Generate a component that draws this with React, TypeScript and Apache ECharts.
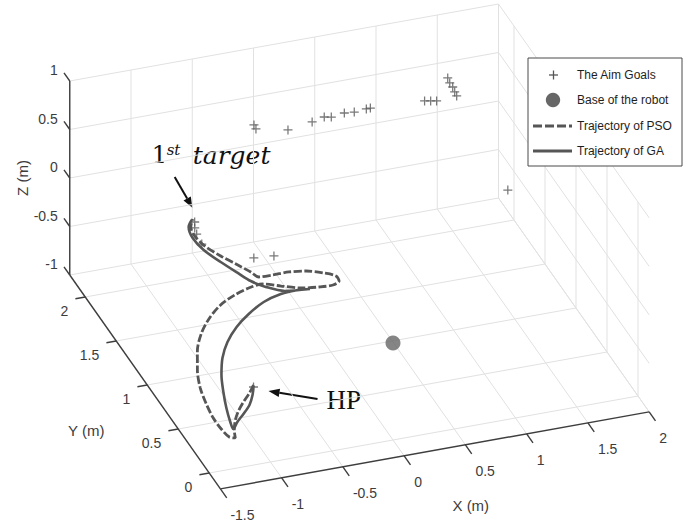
import { useEffect, useRef } from "react";
import * as echarts from "echarts";

const WIDTH = 699;
const HEIGHT = 527;

// Axis limits (metres)
const xRange = [-1.5, 2];
const yRange = [-0.18, 2.25];
const zRange = [-1, 1];

const xTicks = [-1.5, -1, -0.5, 0, 0.5, 1, 1.5, 2];
const yTicks = [0, 0.5, 1, 1.5, 2];
const zTicks = [-1, -0.5, 0, 0.5, 1];
const xTickLabels = ["-1.5", "-1", "-0.5", "0", "0.5", "1", "1.5", "2"];
const yTickLabels = ["0", "0.5", "1", "1.5", "2"];
const zTickLabels = ["-1", "-0.5", "0", "0.5", "1"];

// Goal positions [x, y, z]
const aimGoals: number[][] = [
  [-0.142, 1.962, 0.5],
  [-0.148, 1.918, 0.5],
  [0.079, 1.85, 0.5],
  [0.295, 1.887, 0.5],
  [0.408, 1.915, 0.5],
  [0.459, 1.902, 0.5],
  [0.574, 1.919, 0.5],
  [0.651, 1.911, 0.5],
  [0.754, 1.92, 0.5],
  [0.788, 1.922, 0.5],
  [1.217, 1.895, 0.5],
  [1.261, 1.884, 0.5],
  [1.304, 1.873, 0.5],
  [1.502, 2.085, 0.5],
  [1.491, 2.031, 0.5],
  [1.492, 1.985, 0.5],
  [1.481, 1.931, 0.5],
  [1.475, 1.887, 0.5],
  [1.613, 1.335, 0],
  [-0.302, 1.648, -0.55],
  [-0.146, 1.632, -0.55],
  [-0.547, 2.118, -0.55],
  [-0.577, 2.058, -0.55],
  [-0.594, 1.993, -0.55],
  [-0.608, 1.883, -0.55],
  [-0.963, 0.347, -0.55],
];

const robotBase: number[][] = [[0, 0, 0]];

// Path from the home position (HP) to the first target, PSO planner
const psoTrajectory: number[][] = [
  [-0.953, 0.367, -0.55],
  [-1.023, 0.294, -0.55],
  [-1.113, 0.214, -0.55],
  [-1.195, 0.132, -0.55],
  [-1.263, 0.047, -0.55],
  [-1.322, -0.052, -0.55],
  [-1.355, -0.134, -0.55],
  [-1.394, -0.114, -0.55],
  [-1.411, -0.018, -0.55],
  [-1.413, 0.107, -0.55],
  [-1.392, 0.261, -0.55],
  [-1.354, 0.433, -0.55],
  [-1.283, 0.62, -0.55],
  [-1.186, 0.812, -0.55],
  [-1.064, 0.986, -0.55],
  [-0.929, 1.123, -0.55],
  [-0.783, 1.234, -0.55],
  [-0.63, 1.309, -0.55],
  [-0.492, 1.354, -0.55],
  [-0.37, 1.369, -0.55],
  [-0.249, 1.316, -0.55],
  [-0.114, 1.26, -0.55],
  [0.022, 1.237, -0.55],
  [0.134, 1.232, -0.55],
  [0.198, 1.261, -0.55],
  [0.202, 1.317, -0.55],
  [0.13, 1.369, -0.55],
  [0.01, 1.422, -0.55],
  [-0.119, 1.443, -0.55],
  [-0.251, 1.442, -0.55],
  [-0.363, 1.447, -0.55],
  [-0.396, 1.512, -0.55],
  [-0.454, 1.606, -0.55],
  [-0.532, 1.728, -0.55],
  [-0.597, 1.858, -0.55],
  [-0.618, 1.977, -0.55],
  [-0.601, 2.075, -0.55],
  [-0.546, 2.152, -0.55],
];

// Path from the home position (HP) to the first target, GA planner
const gaTrajectory: number[][] = [
  [-0.958, 0.357, -0.55],
  [-1.011, 0.268, -0.55],
  [-1.084, 0.173, -0.55],
  [-1.174, 0.093, -0.55],
  [-1.259, 0.023, -0.55],
  [-1.324, -0.04, -0.55],
  [-1.31, 0.036, -0.55],
  [-1.267, 0.184, -0.55],
  [-1.207, 0.351, -0.55],
  [-1.134, 0.526, -0.55],
  [-1.04, 0.696, -0.55],
  [-0.922, 0.848, -0.55],
  [-0.779, 0.983, -0.55],
  [-0.625, 1.092, -0.55],
  [-0.455, 1.186, -0.55],
  [-0.29, 1.236, -0.55],
  [-0.146, 1.245, -0.55],
  [-0.054, 1.233, -0.55],
  [-0.246, 1.259, -0.55],
  [-0.363, 1.334, -0.55],
  [-0.442, 1.421, -0.55],
  [-0.495, 1.526, -0.55],
  [-0.563, 1.667, -0.55],
  [-0.625, 1.819, -0.55],
  [-0.643, 1.96, -0.55],
  [-0.616, 2.079, -0.55],
  [-0.558, 2.144, -0.55],
];

const firstTarget = [-0.547, 2.118, -0.55];
const homePosition = [-0.963, 0.347, -0.55];

// Orthographic view: screen offset of the origin and of one metre along each axis
const VIEW_ORIGIN = [393, 343];
const VIEW_X = [122.5, -22];
const VIEW_Y = [-62, -88];
const VIEW_Z = [0, -97];

function project(p: number[]): number[] {
  const [x, y, z] = p;
  return [
    VIEW_ORIGIN[0] + x * VIEW_X[0] + y * VIEW_Y[0] + z * VIEW_Z[0],
    VIEW_ORIGIN[1] + x * VIEW_X[1] + y * VIEW_Y[1] + z * VIEW_Z[1],
  ];
}

function unit(v: number[]): number[] {
  const l = Math.hypot(v[0], v[1]);
  return [v[0] / l, v[1] / l];
}

const LABEL_FONT = "'Liberation Sans', Arial, Helvetica, sans-serif";
const INK = "#565656";
const PLUS_PATH =
  "path://M4.3,0H5.7V4.3H10V5.7H5.7V10H4.3V5.7H0V4.3H4.3Z";

function buildFrame(): number[][] {
  const [xMin, xMax] = xRange;
  const [yMin, yMax] = yRange;
  const [zMin, zMax] = zRange;
  const GRID = 0;
  const AXIS = 1;
  const segs: [number[], number[], number][] = [];
  xTicks.forEach((x) => {
    segs.push([[x, yMin, zMin], [x, yMax, zMin], GRID]);
    segs.push([[x, yMax, zMin], [x, yMax, zMax], GRID]);
  });
  yTicks.forEach((y) => {
    segs.push([[xMin, y, zMin], [xMax, y, zMin], GRID]);
    segs.push([[xMax, y, zMin], [xMax, y, zMax], GRID]);
  });
  zTicks.forEach((z) => {
    segs.push([[xMin, yMax, z], [xMax, yMax, z], GRID]);
    segs.push([[xMax, yMin, z], [xMax, yMax, z], GRID]);
  });
  segs.push([[xMin, yMin, zMin], [xMax, yMin, zMin], AXIS]);
  segs.push([[xMin, yMin, zMin], [xMin, yMax, zMin], AXIS]);
  segs.push([[xMin, yMax, zMin], [xMin, yMax, zMax], AXIS]);

  const out = segs.map(([a, b, k]) => [...project(a), ...project(b), k]);

  const tick = (p: number[], dir: number[], len: number) => {
    const s = project(p);
    out.push([s[0], s[1], s[0] + dir[0] * len, s[1] + dir[1] * len, AXIS]);
  };
  const dirX = unit([-VIEW_Y[0], -VIEW_Y[1]]);
  const dirY = unit([-VIEW_X[0], -VIEW_X[1]]);
  const dirZ = unit(VIEW_Y);
  xTicks.forEach((x) => tick([x, yMin, zMin], dirX, 11));
  yTicks.forEach((y) => tick([xMin, y, zMin], dirY, 10));
  zTicks.forEach((z) => tick([xMin, yMax, z], dirZ, 10));
  return out;
}

function tickLabelSeries(
  points: number[][],
  labels: string[],
  dx: number,
  dy: number,
  align: string
) {
  return {
    type: "custom",
    coordinateSystem: "cartesian2d",
    silent: true,
    z: 3,
    data: points.map(project),
    renderItem: (params: any, api: any) => {
      const p = api.coord([api.value(0), api.value(1)]);
      return {
        type: "text",
        x: p[0] + dx,
        y: p[1] + dy,
        style: {
          text: labels[params.dataIndex],
          fill: "#3c3c3c",
          fontSize: 14,
          fontFamily: LABEL_FONT,
          align,
          verticalAlign: "middle",
        },
      };
    },
  };
}

function arrow(from: number[], to: number[]) {
  const d = unit([to[0] - from[0], to[1] - from[1]]);
  const n = [-d[1], d[0]];
  const len = 11;
  const hw = 4.2;
  const base = [to[0] - d[0] * len, to[1] - d[1] * len];
  return [
    {
      type: "line",
      shape: { x1: from[0], y1: from[1], x2: base[0], y2: base[1] },
      style: { stroke: "#111", lineWidth: 2 },
      silent: true,
    },
    {
      type: "polygon",
      shape: {
        points: [
          to,
          [base[0] + n[0] * hw, base[1] + n[1] * hw],
          [base[0] - n[0] * hw, base[1] - n[1] * hw],
        ],
      },
      style: { fill: "#111" },
      silent: true,
    },
  ];
}

function buildOption() {
  const [xMin] = xRange;
  const [yMin, yMax] = yRange;
  const [zMin] = zRange;

  const xName = project([0.25, yMin, zMin]);
  const yName = project([xMin, 1, zMin]);
  const zName = project([xMin, yMax, 0]);
  const tgt = project(firstTarget);
  const hp = project(homePosition);

  const legendX = 528;
  const legendY = 58;
  const rowY = [75, 100, 126, 151];
  const textX = 577;
  const LZ = 20;

  const legendText = (text: string, y: number) => ({
    type: "text",
    z: LZ,
    x: textX,
    y,
    style: {
      text,
      fill: "#1e1e1e",
      fontSize: 12,
      fontFamily: LABEL_FONT,
      align: "left",
      verticalAlign: "middle",
    },
    silent: true,
  });

  const graphic: any[] = [
    {
      type: "text",
      x: xName[0] + 36,
      y: xName[1] + 55,
      style: { text: "X (m)", fill: "#3c3c3c", fontSize: 15, fontFamily: LABEL_FONT, align: "center", verticalAlign: "middle" },
      silent: true,
    },
    {
      type: "text",
      x: yName[0] - 61,
      y: yName[1] + 45,
      style: { text: "Y (m)", fill: "#3c3c3c", fontSize: 15, fontFamily: LABEL_FONT, align: "center", verticalAlign: "middle" },
      silent: true,
    },
    {
      type: "text",
      x: zName[0] - 47,
      y: zName[1],
      rotation: Math.PI / 2,
      style: { text: "Z (m)", fill: "#3c3c3c", fontSize: 15, fontFamily: LABEL_FONT, align: "center", verticalAlign: "middle" },
      silent: true,
    },
    // first target callout
    {
      type: "text",
      x: tgt[0] - 43,
      y: tgt[1] - 67,
      style: { text: "1", fill: "#111", fontSize: 24, fontFamily: "'DejaVu Serif', serif", align: "left", verticalAlign: "middle" },
      silent: true,
    },
    {
      type: "text",
      x: tgt[0] - 28,
      y: tgt[1] - 72,
      style: { text: "st", fill: "#111", fontSize: 15, fontStyle: "italic", fontFamily: "'DejaVu Serif', serif", align: "left", verticalAlign: "middle" },
      silent: true,
    },
    {
      type: "text",
      x: tgt[0] - 2,
      y: tgt[1] - 67,
      style: { text: "target", fill: "#111", fontSize: 25, fontStyle: "italic", fontFamily: "'DejaVu Serif', serif", align: "left", verticalAlign: "middle" },
      silent: true,
    },
    ...arrow([tgt[0] - 20, tgt[1] - 45], [tgt[0] - 2, tgt[1] - 14]),
    // home position callout
    {
      type: "text",
      x: hp[0] + 73,
      y: hp[1] + 13,
      style: { text: "HP", fill: "#111", fontSize: 27, fontFamily: "'Liberation Serif', 'Times New Roman', serif", align: "left", verticalAlign: "middle" },
      silent: true,
    },
    ...arrow([hp[0] + 64, hp[1] + 12], [hp[0] + 15, hp[1] + 4]),
    // legend box and entries
    {
      type: "rect",
      z: LZ - 1,
      shape: { x: legendX, y: legendY, width: 154, height: 108 },
      style: { fill: "#fff", stroke: "#4a4a4a", lineWidth: 1 },
      silent: true,
    },
    {
      type: "line",
      z: LZ,
      shape: { x1: 549, y1: rowY[0], x2: 558, y2: rowY[0] },
      style: { stroke: INK, lineWidth: 1.3 },
      silent: true,
    },
    {
      type: "line",
      z: LZ,
      shape: { x1: 553.5, y1: rowY[0] - 4.5, x2: 553.5, y2: rowY[0] + 4.5 },
      style: { stroke: INK, lineWidth: 1.3 },
      silent: true,
    },
    {
      type: "circle",
      z: LZ,
      shape: { cx: 553, cy: rowY[1], r: 7.2 },
      style: { fill: "#676767" },
      silent: true,
    },
    {
      type: "line",
      z: LZ,
      shape: { x1: 533, y1: rowY[2], x2: 572, y2: rowY[2] },
      style: { stroke: INK, lineWidth: 3, lineDash: [9, 3] },
      silent: true,
    },
    {
      type: "line",
      z: LZ,
      shape: { x1: 533, y1: rowY[3], x2: 572, y2: rowY[3] },
      style: { stroke: INK, lineWidth: 3 },
      silent: true,
    },
    legendText("The Aim Goals", rowY[0]),
    legendText("Base of the robot", rowY[1]),
    legendText("Trajectory of PSO", rowY[2]),
    legendText("Trajectory of GA", rowY[3]),
  ];

  return {
    animation: false,
    backgroundColor: "#ffffff",
    grid: { left: 0, right: 0, top: 0, bottom: 0 },
    xAxis: { type: "value", min: 0, max: WIDTH, show: false },
    yAxis: { type: "value", min: 0, max: HEIGHT, inverse: true, show: false },
    graphic,
    series: [
      {
        type: "custom",
        coordinateSystem: "cartesian2d",
        silent: true,
        z: 1,
        data: buildFrame(),
        renderItem: (_params: any, api: any) => {
          const p1 = api.coord([api.value(0), api.value(1)]);
          const p2 = api.coord([api.value(2), api.value(3)]);
          const isAxis = api.value(4) === 1;
          return {
            type: "line",
            z2: isAxis ? 2 : 1,
            shape: { x1: p1[0], y1: p1[1], x2: p2[0], y2: p2[1] },
            style: {
              stroke: isAxis ? "#3e3e3e" : "#e1e1e1",
              lineWidth: isAxis ? 1.4 : 1,
            },
          };
        },
      },
      tickLabelSeries(
        xTicks.map((x) => [x, yRange[0], zRange[0]]),
        xTickLabels,
        10,
        26,
        "left"
      ),
      tickLabelSeries(
        yTicks.map((y) => [xRange[0], y, zRange[0]]),
        yTickLabels,
        -17,
        14,
        "right"
      ),
      tickLabelSeries(
        zTicks.map((z) => [xRange[0], yRange[1], z]),
        zTickLabels,
        -12,
        -11,
        "right"
      ),
      {
        name: "Trajectory of PSO",
        type: "line",
        z: 4,
        data: psoTrajectory.map(project),
        showSymbol: false,
        symbol: "none",
        smooth: 0.3,
        silent: true,
        lineStyle: { color: INK, width: 2.8, type: [8, 2.5] },
      },
      {
        name: "Trajectory of GA",
        type: "line",
        z: 4,
        data: gaTrajectory.map(project),
        showSymbol: false,
        symbol: "none",
        smooth: 0.3,
        silent: true,
        lineStyle: { color: INK, width: 2.6 },
      },
      {
        name: "The Aim Goals",
        type: "scatter",
        z: 5,
        data: aimGoals.map(project),
        symbol: PLUS_PATH,
        symbolSize: 9,
        silent: true,
        itemStyle: { color: INK },
      },
      {
        name: "Base of the robot",
        type: "scatter",
        z: 5,
        data: robotBase.map(project),
        symbol: "circle",
        symbolSize: 15,
        silent: true,
        itemStyle: { color: "#676767" },
      },
    ],
  };
}

export default function App() {
  const ref = useRef<HTMLDivElement>(null);

  useEffect(() => {
    if (!ref.current) return;
    const chart = echarts.init(ref.current, undefined, { renderer: "svg" });
    chart.setOption(buildOption() as any);
    return () => chart.dispose();
  }, []);

  return (
    <div
      ref={ref}
      style={{
        position: "fixed",
        left: 0,
        top: 0,
        width: WIDTH,
        height: HEIGHT,
        background: "#fff",
      }}
    />
  );
}
